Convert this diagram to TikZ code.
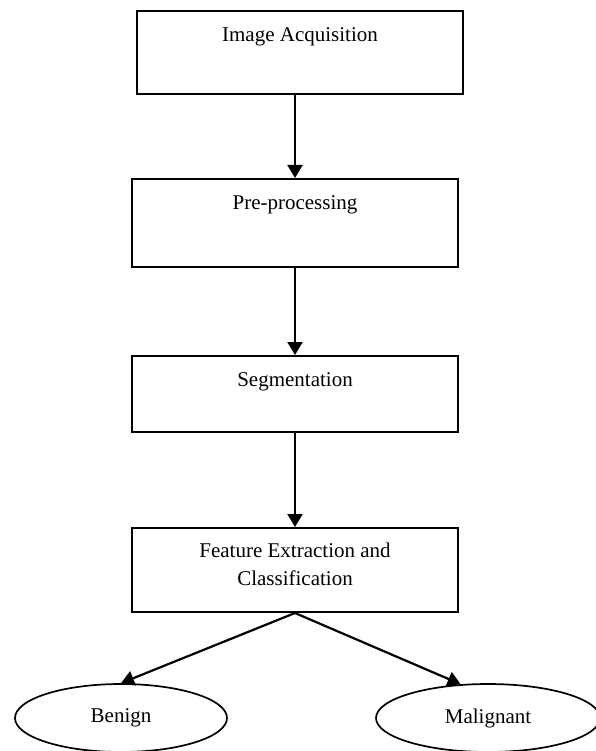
\documentclass[tikz,border=0pt]{standalone}
\usepackage{fontspec}
\setmainfont{Liberation Serif}
\usetikzlibrary{positioning, shapes.geometric, arrows.meta}
\tikzstyle{box} = [rectangle, draw=black, line width=2pt, minimum width=326pt, inner sep=0pt]
\tikzstyle{oval} = [ellipse, draw=black, line width=1.7pt, minimum height=68pt, inner sep=0pt]
\tikzstyle{caption} = [inner sep=0pt, align=center]
\tikzstyle{arrow} = [line width=2.2pt, -{Triangle[width=15pt,length=13pt]}]

\begin{document}
\begin{tikzpicture}[x=1pt, y=-1pt, font=\fontsize{21}{28}\selectfont]
			\useasboundingbox (0,0) rectangle (595,751);
			\node (acq) [box, minimum height=83pt] at (300,52.5) {};
			\node (pre) [box, minimum height=88pt, below=83pt of acq, xshift=-5pt] {};
			\node (seg) [box, minimum height=76pt, below=87pt of pre] {};
			\node (feat) [box, minimum height=84pt, below=94pt of seg] {};
			\node (acqtext) [caption, below=17pt of acq.north] {Image Acquisition};
			\node (pretext) [caption, below=17pt of pre.north] {Pre-processing};
			\node (segtext) [caption, below=17pt of seg.north] {Segmentation};
			\node (feattext) [caption, below=16pt of feat.north] {Feature Extraction and\\Classification};
			\node (benign) [oval, minimum width=212pt] at (121,718) {Benign};
			\node (malig) [oval, minimum width=224pt] at (488,718) {Malignant};
			\draw [arrow] (pre.north |- acq.south) -- (pre.north);
			\draw [arrow] (pre.south) -- (seg.north);
			\draw [arrow] (seg.south) -- (feat.north);
			\draw [arrow] (feat.south) -- (benign.north);
			\draw [arrow] (feat.south) -- (malig.129);
		\end{tikzpicture}
\end{document}
